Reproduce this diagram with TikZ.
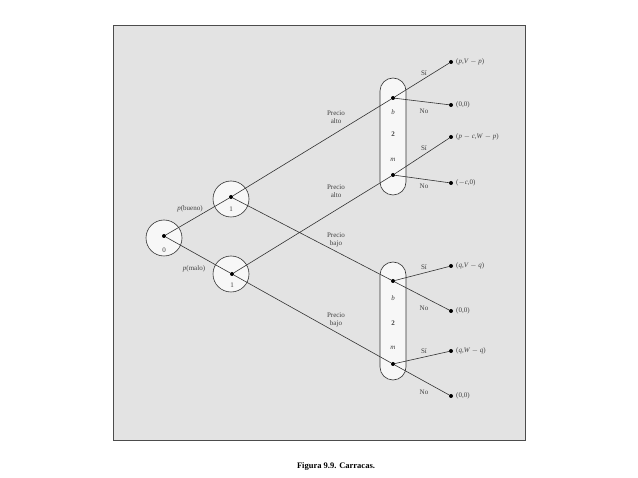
\documentclass[tikz,border=0pt]{standalone}
\usepackage{fontspec}
\setmainfont{Liberation Serif}
\begin{document}
\begin{tikzpicture}[x=1pt,y=-1pt,
  lab/.style={font=\fontsize{7}{8}\selectfont,text=black!75,align=center,inner sep=0pt},
  dot/.style={circle,fill=black,inner sep=0pt,minimum size=4pt},
  ln/.style={draw=black!80,line width=0.6pt},
  chance/.style={circle,draw=black!80,fill=gray!6,line width=0.6pt,minimum size=36pt,inner sep=0pt},
  oval/.style={draw=black!80,fill=gray!6,line width=0.6pt,rounded corners=13pt}]
\useasboundingbox (0,0) rectangle (638,478);
\fill[white] (0,0) rectangle (638,478);
\draw[fill=gray!22,draw=black!70,line width=0.5pt] (113,25) rectangle (525,440);
\node[font=\bfseries\fontsize{8.5}{10}\selectfont] (cap) at (336,466) {Figura 9.9. Carracas.};
% chance circles
\node[chance] (c0) at (164,238) {};
\node[chance] (c1a) at (231,199) {};
\node[chance] (c1b) at (231,274) {};
\draw[oval] (380,78) rectangle (406,195);
\draw[oval] (380,262) rectangle (406,380);
\node[dot] (r) at (164,236) {};
\node[dot] (a) at (231,197) {};
\node[dot] (bb) at (232,274) {};
\node[dot] (tb) at (393,98) {};
\node[dot] (tm) at (393,175) {};
\node[dot] (bbb) at (393,281) {};
\node[dot] (bm) at (393,364) {};
\node[dot] (e1) at (451,62) {}; \node[dot] (e2) at (451,105) {};
\node[dot] (e3) at (451,137) {}; \node[dot] (e4) at (451,183) {};
\node[dot] (e5) at (451,266) {}; \node[dot] (e6) at (451,311) {};
\node[dot] (e7) at (451,351) {}; \node[dot] (e8) at (451,396) {};
\draw[ln] (r)--(a) (r)--(bb) (a)--(tb) (a)--(bbb) (bb)--(tm) (bb)--(bm)
 (tb)--(e1) (tb)--(e2) (tm)--(e3) (tm)--(e4) (bbb)--(e5) (bbb)--(e6) (bm)--(e7) (bm)--(e8);
% labels
\node[lab] (l0) at (164,250) {0};
\node[lab] (l1a) at (231,209) {1};
\node[lab] (l1b) at (232,285) {1};
\node[lab] (pb) at (190,209) {\textit{p}(bueno)};
\node[lab] (pm) at (194,269) {\textit{p}(malo)};
\node[lab] (pa1) at (336,117) {Precio\\alto};
\node[lab] (pa2) at (336,191) {Precio\\alto};
\node[lab] (pb1) at (336,240) {Precio\\bajo};
\node[lab] (pb2) at (336,320) {Precio\\bajo};
\node[lab] at (393,112) {\textit{b}}; \node[lab] at (393,134) {\textbf{2}}; \node[lab] at (393,160) {\textit{m}};
\node[lab] at (393,298) {\textit{b}}; \node[lab] at (393,323) {\textbf{2}}; \node[lab] at (393,348) {\textit{m}};
\node[lab] at (424,73) {Sí}; \node[lab] at (424,111) {No};
\node[lab] at (424,148) {Sí}; \node[lab] at (424,186) {No};
\node[lab] at (424,267) {Sí}; \node[lab] at (424,308) {No};
\node[lab] at (424,351) {Sí}; \node[lab] at (424,392) {No};
\node[lab,anchor=west] at (456,62) {(\textit{p},\textit{V} $-$ \textit{p})};
\node[lab,anchor=west] at (456,105) {(0,0)};
\node[lab,anchor=west] at (456,137) {(\textit{p} $-$ \textit{c},\textit{W} $-$ \textit{p})};
\node[lab,anchor=west] at (456,183) {($-$\textit{c},0)};
\node[lab,anchor=west] at (456,266) {(\textit{q},\textit{V} $-$ \textit{q})};
\node[lab,anchor=west] at (456,311) {(0,0)};
\node[lab,anchor=west] at (456,351) {(\textit{q},\textit{W} $-$ \textit{q})};
\node[lab,anchor=west] at (456,396) {(0,0)};
\end{tikzpicture}
\end{document}
